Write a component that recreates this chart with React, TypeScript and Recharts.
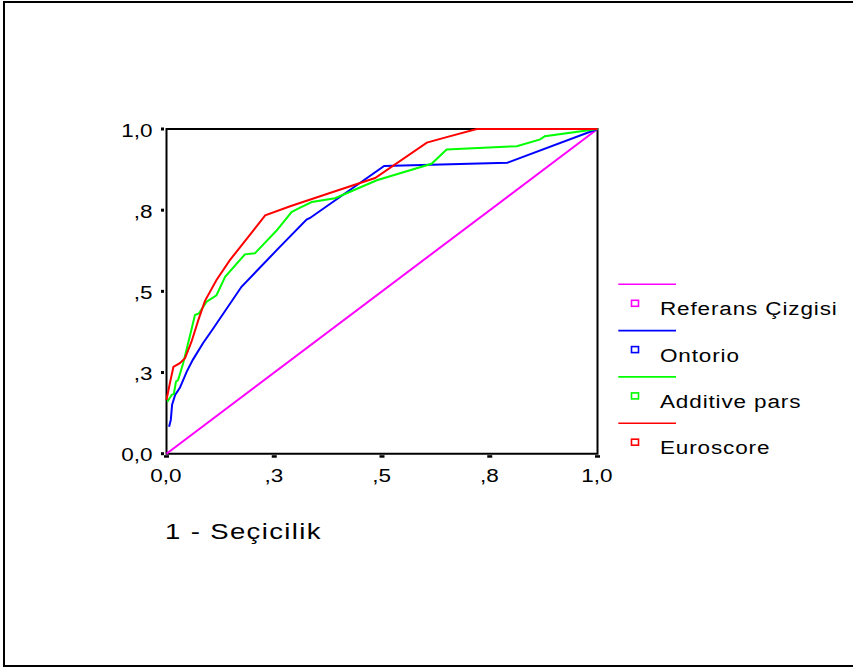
import React from "react";
import { LineChart, Line, XAxis, YAxis, ReferenceArea, Legend } from "recharts";

const FONT = '"Liberation Sans", Arial, Helvetica, sans-serif';
const STRETCH = 1.25;

const tickValues = [0, 0.25, 0.5, 0.75, 1];
const tickLabels = ["0,0", ",3", ",5", ",8", "1,0"];
const xAxisTitle = "1 - Seçicilik";

const seriesNames = ["Referans Çizgisi", "Ontorio", "Additive pars", "Euroscore"];
const seriesColors = ["#FF00FF", "#0000FF", "#00FF00", "#FF0000"];

const referansX = [0, 1];
const referansY = [0, 1];

const ontorioX = [0.006, 0.010, 0.013, 0.020, 0.031, 0.047, 0.061, 0.085, 0.106, 0.174, 0.263, 0.325, 0.333, 0.505, 0.791, 1];
const ontorioY = [0.083, 0.104, 0.151, 0.181, 0.203, 0.253, 0.289, 0.341, 0.381, 0.514, 0.637, 0.721, 0.726, 0.886, 0.896, 1];

const additiveX = [0.002, 0.012, 0.017, 0.022, 0.027, 0.039, 0.055, 0.066, 0.075, 0.093, 0.116, 0.136, 0.182, 0.205, 0.256, 0.290, 0.310, 0.337, 0.391, 0.488, 0.615, 0.650, 0.813, 0.867, 0.878, 1];
const additiveY = [0.160, 0.181, 0.184, 0.222, 0.227, 0.280, 0.366, 0.427, 0.432, 0.468, 0.488, 0.545, 0.614, 0.617, 0.688, 0.744, 0.758, 0.775, 0.787, 0.842, 0.893, 0.937, 0.947, 0.968, 0.978, 1];

const euroscoreX = [0.0, 0.008, 0.016, 0.031, 0.043, 0.058, 0.074, 0.089, 0.116, 0.147, 0.229, 0.287, 0.379, 0.484, 0.604, 0.650, 0.720, 1];
const euroscoreY = [0.166, 0.218, 0.267, 0.279, 0.294, 0.345, 0.412, 0.470, 0.535, 0.596, 0.734, 0.762, 0.803, 0.849, 0.958, 0.975, 1, 1];

const zip = (xs: number[], ys: number[]) => xs.map((x, i) => ({ x, y: ys[i] }));

const seriesData = [
  zip(referansX, referansY),
  zip(ontorioX, ontorioY),
  zip(additiveX, additiveY),
  zip(euroscoreX, euroscoreY),
];

const labelFor = (v: number) => {
  const i = tickValues.indexOf(v);
  return i >= 0 ? tickLabels[i] : String(v);
};

const SText = ({ x, y, anchor = "start", size = 18, spacing = 0, children }: any) => (
  <text
    transform={`translate(${x},${y}) scale(${STRETCH},1)`}
    x={0}
    y={0}
    textAnchor={anchor}
    fontFamily={FONT}
    fontSize={size}
    letterSpacing={spacing}
    fill="#000"
  >
    {children}
  </text>
);

const XTick = (props: any) => {
  const { x, y, payload } = props;
  return (
    <g>
      <rect x={x - 2.5} y={y + 1.5} width={5} height={2.5} fill="#000" />
      <SText x={x - 0.5} y={y + 28} anchor="middle">{labelFor(payload.value)}</SText>
    </g>
  );
};

const YTick = (props: any) => {
  const { x, y, payload } = props;
  return (
    <g>
      <rect x={x - 5.5} y={y - 1.5} width={3} height={3} fill="#000" />
      <SText x={x - 14} y={y + 7.5} anchor="end">{labelFor(payload.value)}</SText>
    </g>
  );
};

const LegendBox = (props: any) => {
  const payload = ((props.payload || []) as any[])
    .slice()
    .sort((a: any, b: any) => seriesNames.indexOf(a.value) - seriesNames.indexOf(b.value));
  const step = 46.3;
  return (
    <svg width={253} height={195} style={{ display: "block" }}>
      {payload.map((p: any, i: number) => {
        const y0 = 14.3 + i * step;
        return (
          <g key={i}>
            <line x1={18.3} x2={76} y1={y0} y2={y0} stroke={p.color} strokeWidth={1.6} />
            <rect x={31.5} y={y0 + 16} width={7} height={6} fill="#fff" stroke={p.color} strokeWidth={1.6} />
            <SText x={60} y={y0 + 31} spacing={0.7}>{p.value}</SText>
          </g>
        );
      })}
    </svg>
  );
};

const TitleLabel = (props: any) => {
  const vb = props.viewBox || {};
  return (
    <SText x={vb.x - 1.5} y={vb.y + 85.5} size={22} spacing={1.1}>{xAxisTitle}</SText>
  );
};

export default function App() {
  return (
    <div style={{ position: "absolute", left: 0, top: 0, width: 853, height: 667, background: "#fff", overflow: "hidden" }}>
      <div
        style={{
          position: "absolute",
          left: 3,
          top: 1,
          width: 900,
          height: 662,
          borderLeft: "2px solid #000",
          borderTop: "2px solid #000",
          borderBottom: "2px solid #000",
        }}
      />
      <div style={{ position: "absolute", left: 0, top: 0 }}>
        <LineChart
          width={853}
          height={667}
          margin={{ top: 129, right: 255.5, left: 126.5, bottom: 183.3 }}
        >
          <ReferenceArea x1={0} x2={1} y1={0} y2={1} fill="none" stroke="#000" strokeWidth={2} ifOverflow="visible" />
          <XAxis
            type="number"
            dataKey="x"
            domain={[0, 1]}
            ticks={tickValues}
            axisLine={false}
            tickLine={false}
            tickSize={0}
            tickMargin={0}
            height={30}
            tick={<XTick />}
            interval={0}
            label={<TitleLabel />}
          />
          <YAxis
            type="number"
            dataKey="y"
            domain={[0, 1]}
            ticks={tickValues}
            axisLine={false}
            tickLine={false}
            tickSize={0}
            tickMargin={0}
            width={40}
            tick={<YTick />}
            interval={0}
          />
          {seriesData.map((d, i) => (
            <Line
              key={seriesNames[i]}
              data={d}
              dataKey="y"
              name={seriesNames[i]}
              type="linear"
              stroke={seriesColors[i]}
              strokeWidth={2}
              dot={false}
              activeDot={false}
              isAnimationActive={false}
            />
          ))}
          <Legend
            layout="vertical"
            align="center"
            verticalAlign="middle"
            wrapperStyle={{ left: 600, top: 270, width: 253, height: 195 }}
            content={<LegendBox />}
          />
        </LineChart>
      </div>
    </div>
  );
}
